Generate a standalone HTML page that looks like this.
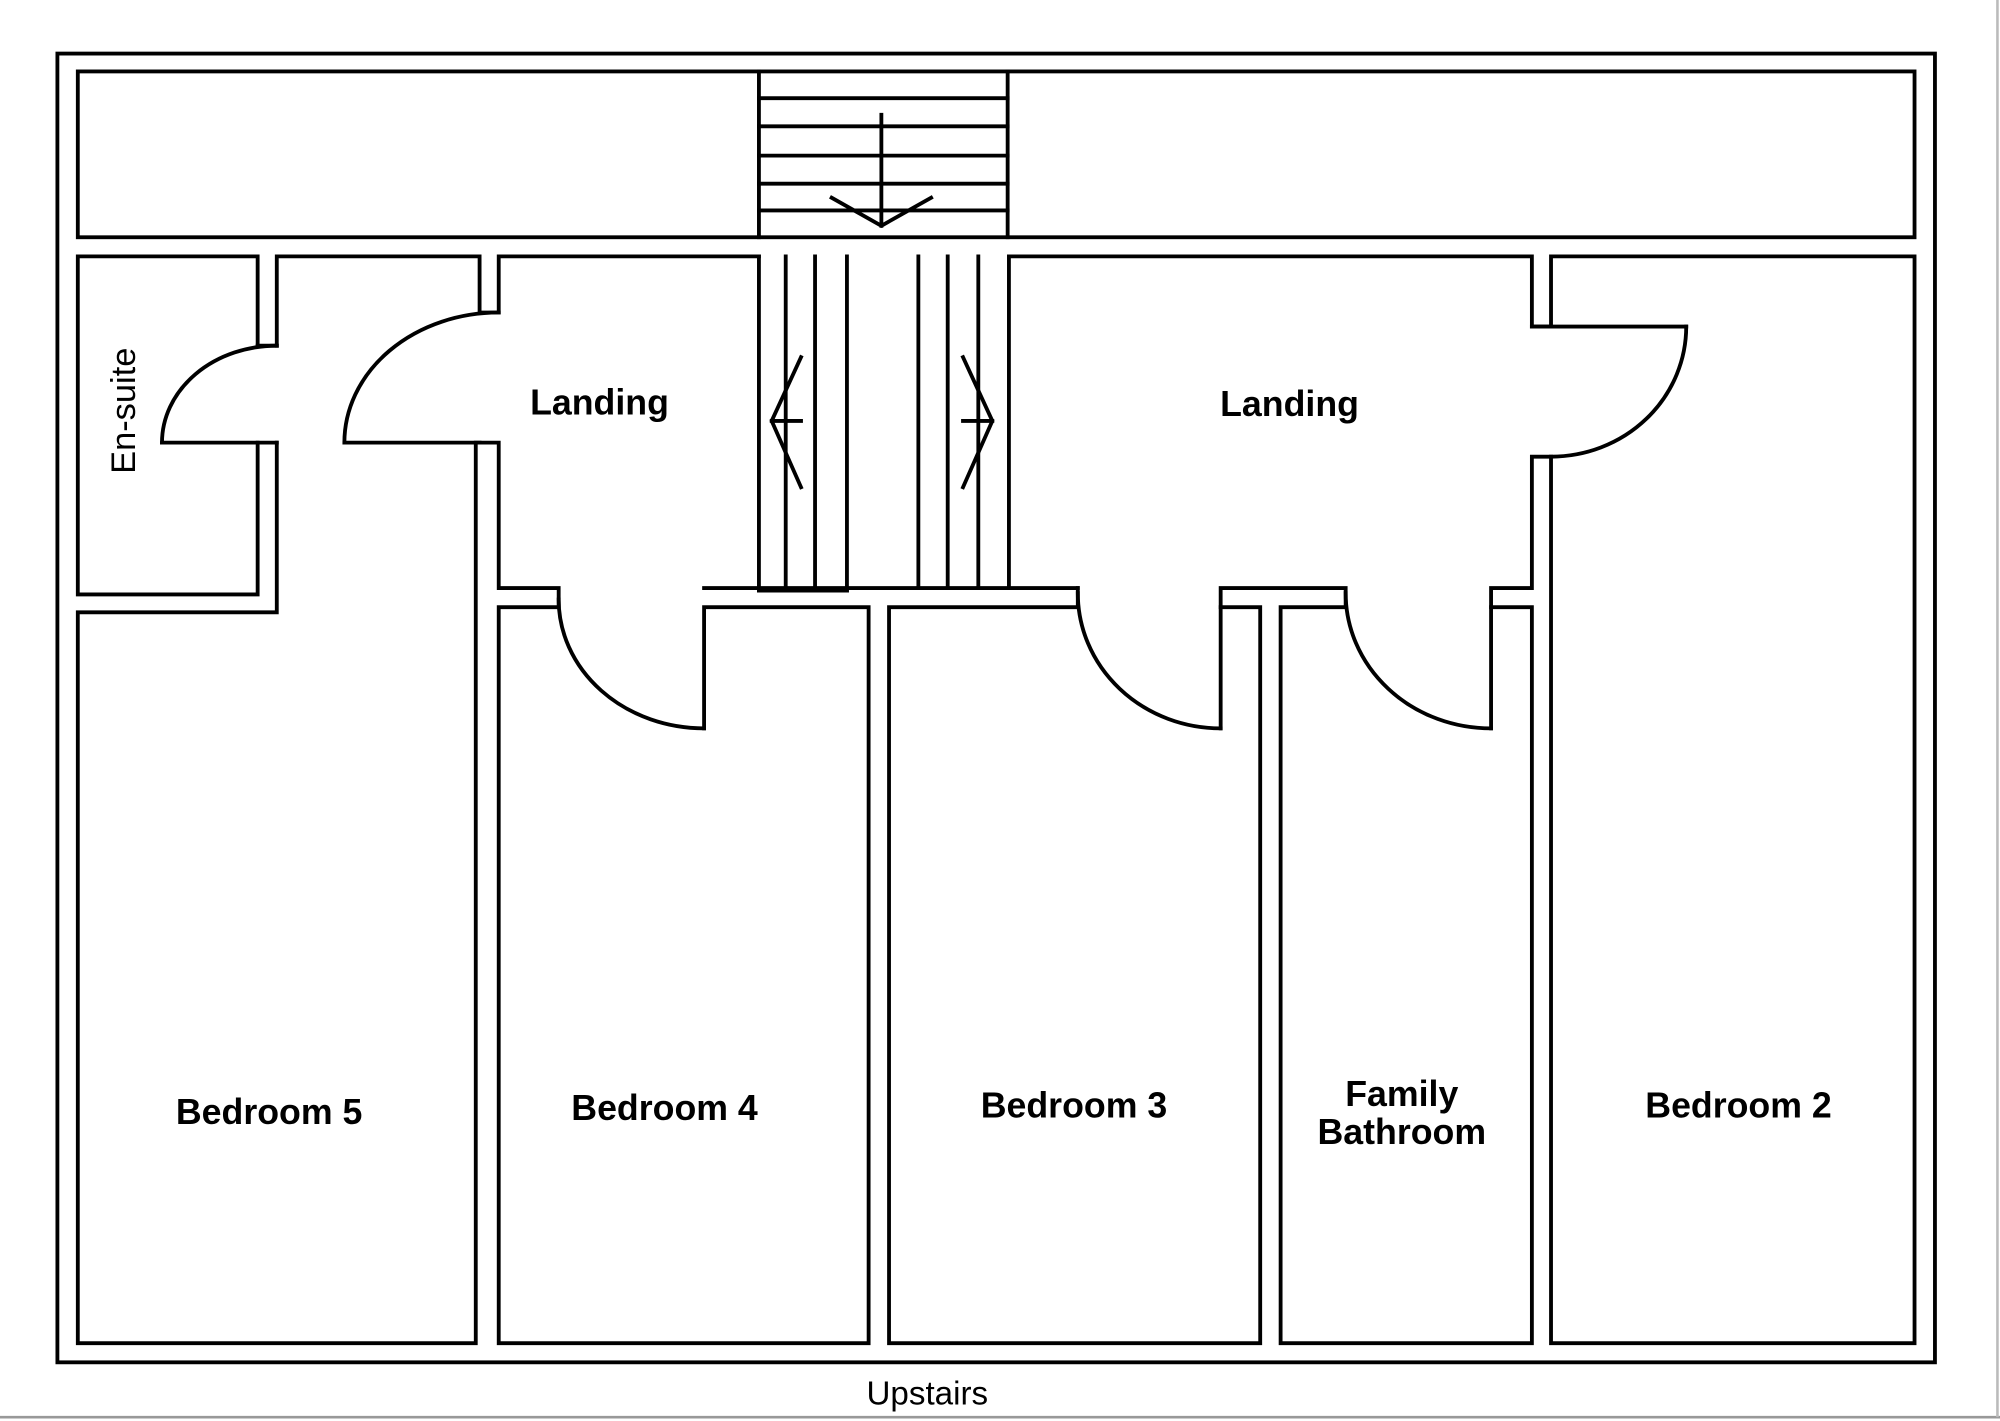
<!DOCTYPE html>
<html><head><style>html,body{margin:0;padding:0;background:#fff}svg{display:block}</style></head>
<body>
<svg width="2000" height="1421" viewBox="0 0 1568 1114" preserveAspectRatio="none" xmlns="http://www.w3.org/2000/svg">
<rect x="0" y="0" width="1568" height="1114" fill="#fff"/>
<line x1="0" y1="1111" x2="1568" y2="1111" stroke="#999" stroke-width="2"/>
<line x1="1566" y1="0" x2="1566" y2="1111" stroke="#bbb" stroke-width="2"/>
<g fill="none" stroke="#000" stroke-width="3" stroke-linecap="square">
<rect x="45" y="42" width="1472" height="1026"/>
<rect x="61" y="56" width="1440" height="130"/>
<line x1="595" y1="56" x2="595" y2="186"/><line x1="790" y1="56" x2="790" y2="186"/>
<line x1="595" y1="77" x2="790" y2="77"/><line x1="595" y1="99" x2="790" y2="99"/>
<line x1="595" y1="122" x2="790" y2="122"/><line x1="595" y1="144" x2="790" y2="144"/>
<line x1="595" y1="165" x2="790" y2="165"/>
<line x1="691" y1="90" x2="691" y2="177"/>
<polyline points="652,155 691,177 730,155"/>
<polyline points="202,271 202,201 61,201 61,466 202,466 202,347"/>
<polyline points="217,271 217,201 376,201 376,245 391,245 391,201 595,201"/>
<polyline points="217,347 217,480 61,480 61,1053 373,1053 373,347 391,347 391,461 438,461 438,476 391,476 391,1053 681,1053 681,476 552,476 552,571"/>
<line x1="127" y1="347" x2="217" y2="347"/>
<line x1="202" y1="271" x2="217" y2="271"/>
<path d="M127,347 A90,76 0 0 1 217,271"/>
<line x1="270" y1="347" x2="376" y2="347"/>
<path d="M270,347 A121,102 0 0 1 391,245"/>
<path d="M438,470 A114,101 0 0 0 552,571"/>
<line x1="595" y1="201" x2="595" y2="463"/><line x1="616" y1="201" x2="616" y2="463"/>
<line x1="639" y1="201" x2="639" y2="463"/><line x1="664" y1="201" x2="664" y2="463"/>
<line x1="720" y1="201" x2="720" y2="461"/><line x1="743" y1="201" x2="743" y2="461"/>
<line x1="767" y1="201" x2="767" y2="461"/><line x1="791" y1="201" x2="791" y2="461"/>
<line x1="595" y1="463" x2="664" y2="463"/>
<line x1="552" y1="461" x2="845" y2="461"/>
<polyline points="628,280 605,330 628,382"/><line x1="605" y1="330" x2="628" y2="330"/>
<polyline points="755,280 778,330 755,382"/><line x1="755" y1="330" x2="778" y2="330"/>
<polyline points="791,201 1201,201 1201,256 1216,256 1216,201 1501,201 1501,1053 1216,1053 1216,358 1201,358 1201,461 1169,461 1169,571"/>
<line x1="1201" y1="256" x2="1322" y2="256"/>
<path d="M1322,256 A106,102 0 0 1 1216,358"/>
<polyline points="845,461 845,476 697,476 697,1053 988,1053 988,476 957,476 957,461 1055,461 1055,476 1004,476 1004,1053 1201,1053 1201,476 1169,476"/>
<line x1="957" y1="476" x2="957" y2="571"/>
<path d="M845,465 A112,106 0 0 0 957,571"/>
<path d="M1055,465 A114,106 0 0 0 1169,571"/>
</g>
<g font-family="'Liberation Sans', sans-serif" font-size="28" font-weight="bold" text-anchor="middle" fill="#000">
<text x="470" y="325">Landing</text>
<text x="1011" y="326">Landing</text>
<text x="211" y="881">Bedroom 5</text>
<text x="521" y="878">Bedroom 4</text>
<text x="842" y="876">Bedroom 3</text>
<text x="1099" y="867">Family</text>
<text x="1099" y="897">Bathroom</text>
<text x="1363" y="876">Bedroom 2</text>
</g>
<text x="0" y="0" transform="translate(106,322) rotate(-90)" font-family="'Liberation Sans', sans-serif" font-size="27" text-anchor="middle">En-suite</text>
<text x="727" y="1101" font-family="'Liberation Sans', sans-serif" font-size="26" text-anchor="middle">Upstairs</text>
</svg>
</body></html>
